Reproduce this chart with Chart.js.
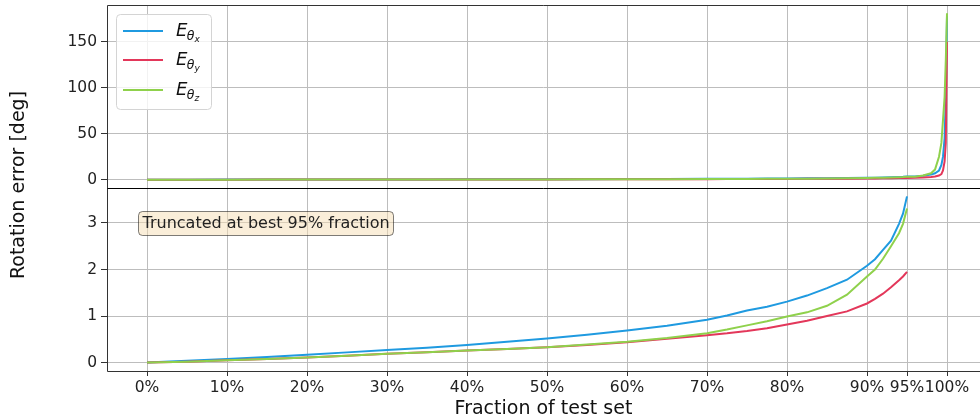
<!DOCTYPE html>
<html><head><meta charset="utf-8">
<script src="https://cdn.jsdelivr.net/npm/chart.js@4/dist/chart.umd.min.js"></script>
<style>html,body{margin:0;padding:0;background:#fff;}#wrap{width:980px;height:420px;position:relative;}</style>
</head><body><div id="wrap"><canvas id="c" width="980" height="420"></canvas></div>
<script>
// ---- data (fraction of test set in %, rotation error in degrees) ----
const fractions = [0, 5, 10, 15, 20, 25, 30, 35, 40, 45, 50, 55, 60, 65, 70, 72.5, 75, 77.5, 80, 82.5, 85, 87.5, 90, 91, 92, 93, 94, 94.5, 95];
const errThetaX = [0, 0.04, 0.08, 0.12, 0.17, 0.22, 0.27, 0.32, 0.38, 0.45, 0.52, 0.60, 0.69, 0.79, 0.92, 1.01, 1.12, 1.20, 1.31, 1.44, 1.60, 1.78, 2.08, 2.22, 2.42, 2.62, 2.98, 3.20, 3.57];
const errThetaY = [0, 0.02, 0.05, 0.08, 0.11, 0.15, 0.19, 0.22, 0.26, 0.29, 0.33, 0.38, 0.44, 0.51, 0.59, 0.63, 0.68, 0.74, 0.82, 0.90, 1.00, 1.10, 1.27, 1.37, 1.48, 1.62, 1.77, 1.85, 1.95];
const errThetaZ = [0, 0.02, 0.05, 0.08, 0.11, 0.15, 0.19, 0.22, 0.26, 0.29, 0.33, 0.39, 0.45, 0.53, 0.63, 0.71, 0.80, 0.89, 0.99, 1.08, 1.22, 1.46, 1.85, 2.00, 2.23, 2.50, 2.78, 2.98, 3.31];
// worst 5% tail (only shown in the full, upper panel)
const tailFractions = [96, 97, 98, 98.5, 99, 99.3, 99.5, 99.7, 99.85, 100];
const tailThetaX = [3.5, 4.2, 5.5, 7, 10, 16, 25, 45, 90, 178];
const tailThetaY = [2.2, 2.5, 3.0, 3.5, 4.5, 6, 10, 20, 40, 150];
const tailThetaZ = [3.2, 4.5, 7, 11, 25, 40, 65, 90, 130, 181];

const seriesSub = ['x', 'y', 'z'];
const seriesColors = ['#1f9ae0', '#e3375a', '#8fd14c'];
const xTickValues = [0, 10, 20, 30, 40, 50, 60, 70, 80, 90, 95, 100];
const topYTicks = [0, 50, 100, 150];
const bottomYTicks = [0, 1, 2, 3];
const annotationText = 'Truncated at best 95% fraction';
const xTitle = 'Fraction of test set';
const yTitle = 'Rotation error [deg]';

const toPts = (xs, ys) => xs.map((x, i) => ({x: x, y: ys[i]}));
const fullX = fractions.concat(tailFractions);
const fullSeries = [errThetaX.concat(tailThetaX), errThetaY.concat(tailThetaY), errThetaZ.concat(tailThetaZ)];
const truncSeries = [errThetaX, errThetaY, errThetaZ];
const drawOrder = [2, 1, 0];

const datasets = [];
[0, 1, 2].forEach(i => {
  datasets.push({data: toPts(fullX, fullSeries[i]), yAxisID: 'yTop', borderColor: seriesColors[i], borderWidth: 2, pointRadius: 0, tension: 0, fill: false, order: drawOrder[i]});
  datasets.push({data: toPts(fractions, truncSeries[i]), yAxisID: 'yBot', borderColor: seriesColors[i], borderWidth: 2, pointRadius: 0, tension: 0, fill: false, order: drawOrder[i]});
});

const FONT = '"DejaVu Sans", sans-serif';
const gridColor = '#bdbdbd';
const spineColor = '#333';

function roundRect(ctx, x, y, w, h, r) {
  ctx.beginPath();
  ctx.moveTo(x + r, y); ctx.lineTo(x + w - r, y); ctx.arcTo(x + w, y, x + w, y + r, r);
  ctx.lineTo(x + w, y + h - r); ctx.arcTo(x + w, y + h, x + w - r, y + h, r);
  ctx.lineTo(x + r, y + h); ctx.arcTo(x, y + h, x, y + h - r, r);
  ctx.lineTo(x, y + r); ctx.arcTo(x, y, x + r, y, r); ctx.closePath();
}

const decor = {
  id: 'decor',
  afterDatasetsDraw(chart) {
    const ctx = chart.ctx, ca = chart.chartArea;
    const yTop = chart.scales.yTop;
    const L = Math.round(ca.left) + 0.5, T = Math.round(ca.top) + 0.5, B = Math.round(ca.bottom) + 0.5;
    ctx.save();
    // spines
    ctx.strokeStyle = spineColor; ctx.lineWidth = 1;
    ctx.beginPath();
    ctx.moveTo(L, T); ctx.lineTo(ca.right, T);
    ctx.moveTo(L, T); ctx.lineTo(L, B);
    ctx.moveTo(L, B); ctx.lineTo(ca.right, B);
    ctx.stroke();
    // separator between panels
    const S = Math.round(yTop.bottom) + 0.5;
    ctx.strokeStyle = '#000'; ctx.lineWidth = 1;
    ctx.beginPath(); ctx.moveTo(L, S); ctx.lineTo(ca.right, S); ctx.stroke();

    // annotation box
    ctx.font = '16px ' + FONT;
    const tw = ctx.measureText(annotationText).width;
    const bx = 138.5, by = 211.5, bw = Math.round(tw + 8), bh = 24;
    roundRect(ctx, bx, by, bw, bh, 4);
    ctx.fillStyle = 'rgba(245,222,179,0.5)'; ctx.fill();
    ctx.strokeStyle = 'rgba(0,0,0,0.5)'; ctx.lineWidth = 1; ctx.stroke();
    ctx.fillStyle = '#222'; ctx.textBaseline = 'middle'; ctx.textAlign = 'left';
    ctx.fillText(annotationText, bx + 4, by + bh / 2 + 0.5);

    // legend
    roundRect(ctx, 116.5, 14.5, 95, 95, 4);
    ctx.fillStyle = 'rgba(255,255,255,0.8)'; ctx.fill();
    ctx.strokeStyle = '#d4d4d4'; ctx.lineWidth = 1; ctx.stroke();
    const rows = [31, 60, 90];
    rows.forEach((ry, i) => {
      ctx.strokeStyle = seriesColors[i]; ctx.lineWidth = 2;
      ctx.beginPath(); ctx.moveTo(123, ry); ctx.lineTo(163, ry); ctx.stroke();
      ctx.fillStyle = '#111'; ctx.textBaseline = 'alphabetic'; ctx.textAlign = 'left';
      ctx.font = 'italic 18px ' + FONT;
      ctx.fillText('E', 176, ry + 5);
      const ew = ctx.measureText('E').width;
      ctx.font = 'italic 12.5px ' + FONT;
      ctx.fillText('\u03B8', 176 + ew - 0.5, ry + 9);
      const tw2 = ctx.measureText('\u03B8').width;
      ctx.font = 'italic 9px ' + FONT;
      ctx.fillText(seriesSub[i], 176 + ew + tw2 - 0.5, ry + 11);
    });

    // y title
    ctx.save();
    ctx.translate(19, 185); ctx.rotate(-Math.PI / 2);
    ctx.font = '19px ' + FONT; ctx.fillStyle = '#111';
    ctx.textAlign = 'center'; ctx.textBaseline = 'middle';
    ctx.fillText(yTitle, 0, 0);
    ctx.restore();
    ctx.restore();
  }
};

function yAxis(min, max, ticksArr, weight) {
  return {
    type: 'linear', position: 'left', stack: 'rot', stackWeight: 1, weight: weight,
    min: min, max: max,
    afterBuildTicks: s => { s.ticks = ticksArr.map(v => ({value: v})); },
    afterFit: s => { s.width = 107; s.paddingTop = 0; s.paddingBottom = 0; },
    ticks: {color: '#222', font: {family: FONT, size: 15.5}, padding: 4, callback: v => String(v)},
    grid: {color: gridColor, lineWidth: 1, tickLength: 6, tickColor: spineColor, tickWidth: 1},
    border: {display: false}
  };
}

new Chart(document.getElementById('c'), {
  type: 'line',
  data: {datasets: datasets},
  options: {
    responsive: false, animation: false, devicePixelRatio: 1,
    layout: {padding: {top: 5, left: 0, right: 0, bottom: 0}},
    plugins: {legend: {display: false}, tooltip: {enabled: false}},
    scales: {
      x: {
        type: 'linear', position: 'bottom', min: -5, max: 104.125,
        afterBuildTicks: s => { s.ticks = xTickValues.map(v => ({value: v})); },
        afterFit: s => { s.height = 49; s.paddingLeft = 0; s.paddingRight = 0; },
        ticks: {color: '#222', font: {family: FONT, size: 15.5}, padding: 3, maxRotation: 0, autoSkip: false, callback: v => v + '%'},
        grid: {color: gridColor, lineWidth: 1, tickLength: 5, tickColor: spineColor, tickWidth: 1},
        border: {display: false},
        title: {display: true, text: xTitle, color: '#111', font: {family: FONT, size: 19}, padding: {top: 0, bottom: 0}}
      },
      yBot: yAxis(-0.18, 3.75, bottomYTicks, 0),
      yTop: yAxis(-9.05, 190.05, topYTicks, 1)
    }
  },
  plugins: [decor]
});
</script></body></html>
